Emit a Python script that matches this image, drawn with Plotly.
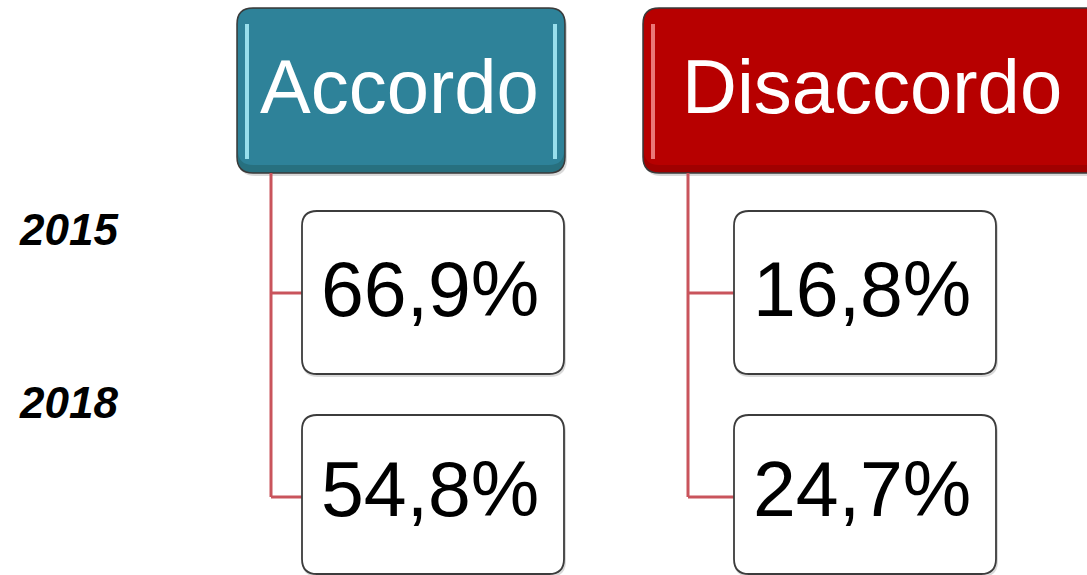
import plotly.graph_objects as go

categories = ["Accordo", "Disaccordo"]
years = ["2015", "2018"]
values_2015 = ["66,9%", "16,8%"]
values_2018 = ["54,8%", "24,7%"]
header_colors = ["#2E8299", "#B70000"]
header_dark = ["#27707F", "#A00000"]
highlight_colors = ["rgba(170,240,250,0.85)", "rgba(245,140,140,0.85)"]

W, H = 1087, 575
FONT = "Liberation Sans, Arial, sans-serif"

# layout constants (pixels in data space)
header_x = [(237, 565), (643, 1105)]
header_y = (8, 173)
header_text_x = [399, 872]
conn_x = [271, 688]
val_x = [(302, 564), (734, 996)]
val_y = [(211, 374), (415, 574)]
year_y = [229, 402]


def rrect(x0, y0, x1, y1, r):
    return (f"M {x0+r},{y0} L {x1-r},{y0} Q {x1},{y0} {x1},{y0+r} "
            f"L {x1},{y1-r} Q {x1},{y1} {x1-r},{y1} L {x0+r},{y1} "
            f"Q {x0},{y1} {x0},{y1-r} L {x0},{y0+r} Q {x0},{y0} {x0+r},{y0} Z")


shapes = []
fig = go.Figure()
vals = [values_2015, values_2018]

for i, cat in enumerate(categories):
    x0, x1 = header_x[i]
    y0, y1 = header_y
    # shadow
    shapes.append(dict(type="path", path=rrect(x0 + 2, y0 + 3, x1 + 2, y1 + 3, 16),
                       fillcolor="rgba(0,0,0,0.15)", line=dict(width=0), layer="below"))
    shapes.append(dict(type="path", path=rrect(x0, y0, x1, y1, 16),
                       fillcolor=header_dark[i], line=dict(color="#3a3a3a", width=1.5)))
    shapes.append(dict(type="path", path=rrect(x0 + 1, y0 + 1, x1 - 1, y1 - 8, 15),
                       fillcolor=header_colors[i], line=dict(width=0)))
    # glossy highlights
    for hx in (x0 + 10, x1 - 10):
        shapes.append(dict(type="line", x0=hx, x1=hx, y0=y0 + 16, y1=y1 - 14,
                           line=dict(color=highlight_colors[i], width=4)))
    fig.add_annotation(x=header_text_x[i], y=86,
                       text=cat, showarrow=False, xanchor="center", yanchor="middle",
                       font=dict(family=FONT, size=76, color="white"))

    cx = conn_x[i]
    vx0, vx1 = val_x[i]
    # connector vertical
    shapes.append(dict(type="line", x0=cx, x1=cx, y0=y1, y1=497,
                       line=dict(color="#C9545C", width=3)))
    for j in range(2):
        vy0, vy1 = val_y[j]
        my = 293 if j == 0 else 497
        shapes.append(dict(type="line", x0=cx, x1=vx0, y0=my, y1=my,
                           line=dict(color="#C9545C", width=3)))
        shapes.append(dict(type="path", path=rrect(vx0 + 1, vy0 + 2, vx1 + 1, vy1 + 2, 15),
                           fillcolor="rgba(0,0,0,0)", line=dict(color="rgba(0,0,0,0.15)", width=2)))
        shapes.append(dict(type="path", path=rrect(vx0, vy0, vx1, vy1, 15),
                           fillcolor="white", line=dict(color="#3c3c3c", width=1.8)))
        fig.add_annotation(x=(vx0 + vx1) / 2 - 3, y=(vy0 + vy1) / 2 - 4 + (0 if j == 0 else -2),
                           text=vals[j][i], showarrow=False, xanchor="center", yanchor="middle",
                           font=dict(family=FONT, size=77, color="black"))

for j, yr in enumerate(years):
    fig.add_annotation(x=17, y=year_y[j], text=f"<b><i>{yr}</i></b>", showarrow=False,
                       xanchor="left", yanchor="middle",
                       font=dict(family=FONT, size=44, color="black"))

fig.update_layout(
    width=W, height=H, margin=dict(l=0, r=0, t=0, b=0),
    paper_bgcolor="white", plot_bgcolor="white",
    xaxis=dict(range=[0, W], visible=False, fixedrange=True),
    yaxis=dict(range=[H, 0], visible=False, fixedrange=True),
    shapes=shapes, showlegend=False,
)
fig.write_html("out.html")
